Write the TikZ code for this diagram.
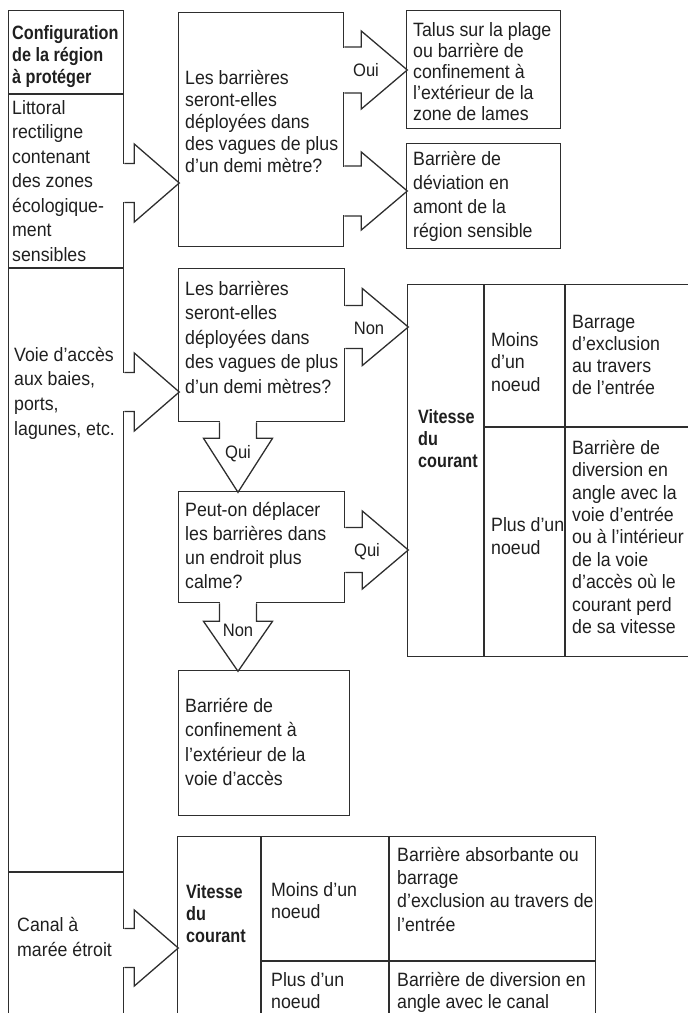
\documentclass[tikz,border=0pt]{standalone}
\usepackage{fontspec}
\setmainfont{Liberation Sans}[FakeStretch=0.92]
\newfontfamily\hdfont{Liberation Sans}[FakeStretch=0.84]
\newcommand\tstrut{\rule{0pt}{15pt}}
\colorlet{linecol}{black!82}
\tikzset{
  box/.style={draw=linecol, line width=1.3pt, anchor=north west, inner sep=0pt},
  txt/.style={anchor=north west, inner sep=0pt, align=left, text=black!88, font=\fontsize{19.3pt}{#1pt}\selectfont},
  txt/.default=22.5,
  hd/.style={anchor=north west, inner sep=0pt, align=left, text=black!88, font=\hdfont\fontsize{19.3pt}{22pt}\selectfont\bfseries},
  lbl/.style={inner sep=0pt, text=black!88, text height=13pt, text depth=0pt, font=\fontsize{18pt}{20pt}\selectfont},
  pics/barrow/.style n args={4}{code={
    \fill[white] (-1,-#3+0.7) rectangle (#1,#3-0.7);
    \draw[draw=linecol, line width=1.3pt] (0,-#3) -- (#1,-#3) -- (#1,-#4) -- (#2,0) -- (#1,#4) -- (#1,#3) -- (0,#3);
  }}
}
\begin{document}
\begin{tikzpicture}[x=1pt, y=-1pt]
	\clip (0,0) rectangle (688,1013);

	\node[box, minimum width=115pt, minimum height=1020pt] (region) at (8,10) {};
	\node[box, minimum width=165pt, minimum height=234pt] (q1) at (178,12) {};
	\node[box, minimum width=154pt, minimum height=118pt] (a1) at (406,10) {};
	\node[box, minimum width=154pt, minimum height=105pt] (a2) at (406,143) {};
	\node[box, minimum width=166pt, minimum height=153pt] (q2) at (178,268) {};
	\node[box, minimum width=166pt, minimum height=111pt] (q3) at (178,491) {};
	\node[box, minimum width=171pt, minimum height=145pt] (b4) at (178,670) {};
	\node[box, minimum width=293pt, minimum height=372pt] (t1) at (407,284) {};
	\node[box, minimum width=418pt, minimum height=194pt] (t2) at (177,836) {};

	\draw[draw=linecol, line width=1.3pt] (region.west |- 0,94) -- (region.east |- 0,94);
	\draw[draw=linecol, line width=1.3pt] (region.west |- 0,268) -- (region.east |- 0,268);
	\draw[draw=linecol, line width=1.3pt] (region.west |- 0,872) -- (region.east |- 0,872);
	\draw[draw=linecol, line width=1.3pt] (t1.north -| 484,0) -- (t1.south -| 484,0);
	\draw[draw=linecol, line width=1.3pt] (t1.north -| 565,0) -- (t1.south -| 565,0);
	\draw[draw=linecol, line width=1.3pt] (484,427) -- (t1.east |- 0,427);
	\draw[draw=linecol, line width=1.3pt] (t2.north -| 261,0) -- (t2.south -| 261,0);
	\draw[draw=linecol, line width=1.3pt] (t2.north -| 389,0) -- (t2.south -| 389,0);
	\draw[draw=linecol, line width=1.3pt] (261,961) -- (t2.east |- 0,961);

	\pic at (region.east |- 0,183) {barrow={10}{55}{19.5}{39}};
	\pic at (region.east |- 0,392) {barrow={10}{55}{19.5}{39}};
	\pic at (region.east |- 0,948) {barrow={10}{54}{19.5}{38}};
	\pic at (q1.east |- 0,70) {barrow={17}{63}{23}{39}};
	\pic at (q1.east |- 0,191) {barrow={17}{63}{25}{39}};
	\pic at (q2.east |- 0,327) {barrow={17}{63}{21.5}{38.5}};
	\pic at (q3.east |- 0,550) {barrow={17}{63}{22.5}{39}};
	\pic[rotate=-90] at (q2.south -| 238,0) {barrow={16}{70}{18.5}{34.5}};
	\pic[rotate=-90] at (q3.south -| 238,0) {barrow={18}{68}{18.5}{34.5}};

	\node[lbl] (oui1) at (366,70) {Oui};
	\node[lbl] (non1) at (369,328) {Non};
	\node[lbl] (qui1) at (238,452) {Qui};
	\node[lbl] (qui2) at (367,550) {Qui};
	\node[lbl] (non2) at (238,630) {Non};

	\node[hd] (hdt) at (12,24) {\tstrut Configuration\\de la région\\à protéger};
	\node[txt=24.5] (littoralt) at (12,99) {\tstrut Littoral\\rectiligne\\contenant\\des zones\\écologique-\\ment\\sensibles};
	\node[txt=24.7] (voiet) at (14,346) {\tstrut Voie d'accès\\aux baies,\\ports,\\lagunes, etc.};
	\node[txt=25] (canalt) at (17,916) {\tstrut Canal à\\marée étroit};

	\node[txt=22] (q1t) at (185,69) {\tstrut Les barrières\\seront-elles\\déployées dans\\des vagues de plus\\d'un demi mètre?};
	\node[txt=21] (a1t) at (413,21) {\tstrut Talus sur la plage\\ou barrière de\\confinement à\\l'extérieur de la\\zone de lames};
	\node[txt=24] (a2t) at (413,150) {\tstrut Barrière de\\déviation en\\amont de la\\région sensible};
	\node[txt=24.5] (q2t) at (185,280) {\tstrut Les barrières\\seront-elles\\déployées dans\\des vagues de plus\\d'un demi mètres?};
	\node[txt=24] (q3t) at (185,501) {\tstrut Peut-on déplacer\\les barrières dans\\un endroit plus\\calme?};
	\node[txt=24.5] (b4t) at (185,697) {\tstrut Barriére de\\confinement à\\l'extérieur de la\\voie d'accès};

	\node[hd] (t1a) at (418,408) {\tstrut Vitesse\\du\\courant};
	\node[txt=22.5] (t1b) at (491,331) {\tstrut Moins\\d'un\\noeud};
	\node[txt=22] (t1c) at (572,313) {\tstrut Barrage\\d'exclusion\\au travers\\de l'entrée};
	\node[txt=23] (t1d) at (491,516) {\tstrut Plus d'un\\noeud};
	\node[txt=22.4] (t1e) at (572,439) {\tstrut Barrière de\\diversion en\\angle avec la\\voie d'entrée\\ou à l'intérieur\\de la voie\\d'accès où le\\courant perd\\de sa vitesse};

	\node[hd] (t2a) at (186,883) {\tstrut Vitesse\\du\\courant};
	\node[txt=22] (t2b) at (271,881) {\tstrut Moins d'un\\noeud};
	\node[txt=23.3] (t2c) at (397,846) {\tstrut Barrière absorbante ou\\barrage\\d'exclusion au travers de\\l'entrée};
	\node[txt=22] (t2d) at (271,971) {\tstrut Plus d'un\\noeud};
	\node[txt=22] (t2e) at (397,971) {\tstrut Barrière de diversion en\\angle avec le canal};
\end{tikzpicture}
\end{document}
